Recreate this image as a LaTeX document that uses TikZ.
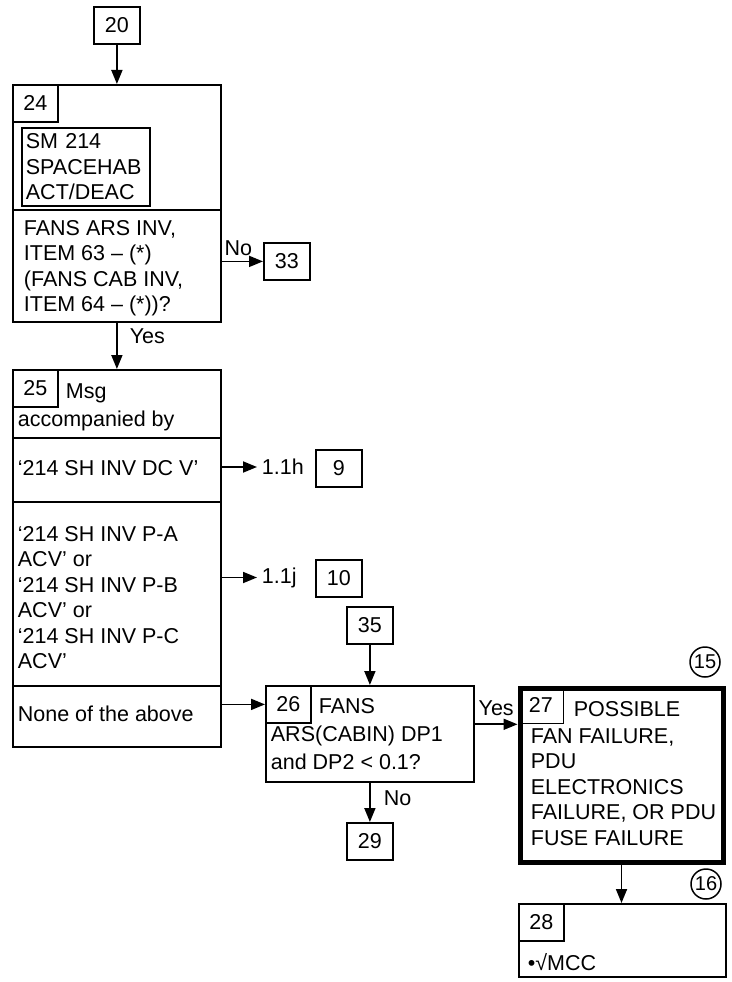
\documentclass[tikz,border=0pt]{standalone}
\usepackage{fontspec}
\setmainfont{Liberation Sans}
\usetikzlibrary{arrows.meta}

\begin{document}
\begin{tikzpicture}[x=1pt,y=-1pt,line width=1.8pt,
  font=\fontsize{21.5}{25.5}\selectfont,
  every node/.style={inner sep=0pt},
  box/.style={draw,anchor=north west},
  numbox/.style={draw,anchor=north west,minimum width=46pt,minimum height=37pt},
  txt/.style={anchor=north west,align=left},
  arr/.style={-{Triangle[length=14pt,width=11pt]}}]
\useasboundingbox (0,0) rectangle (731,982);

% plain reference boxes
\foreach \n/\x/\y in {20/93/6,33/263/242,9/315/449,10/315/559,35/346/606,29/346/822}
  \node[numbox] (b\n) at (\x,\y) {\n};

% block 24
\node[box,minimum width=208pt,minimum height=125pt] (s24a) at (12,84) {};
\node[box,minimum width=208pt,minimum height=112pt] (s24b) at (12,209) {};
\node[box,text width=120pt,inner xsep=4pt,minimum height=78pt,align=left] (sm) at (21,127) {SM 214\\SPACEHAB\\ACT/DEAC};
\node[txt] (q24) at (23,219.5) {FANS ARS INV,\\ITEM 63 – (*)\\(FANS CAB INV,\\ITEM 64 – (*))?};

% block 25
\node[box,minimum width=208pt,minimum height=68pt] (s25a) at (12,369) {};
\node[box,minimum width=208pt,minimum height=64pt] (s25b) at (12,437) {};
\node[box,minimum width=208pt,minimum height=184pt] (s25c) at (12,501) {};
\node[box,minimum width=208pt,minimum height=61pt] (s25d) at (12,685) {};
\node[txt] (msg) at (65,382.5) {Msg};
\node[txt] (acc) at (17,410.5) {accompanied by};
\node[txt] (dcv) at (17,459.5) {‘214 SH INV DC V’};
\node[txt] (acv) at (17,525.5) {‘214 SH INV P-A\\ACV’ or\\‘214 SH INV P-B\\ACV’ or\\‘214 SH INV P-C\\ACV’};
\node[txt] (none) at (17,705.5) {None of the above};
\node[anchor=west,inner xsep=4pt] (h11) at (257,467) {1.1h};
\node[anchor=west,inner xsep=4pt] (j11) at (257,577.5) {1.1j};

% block 26
\node[box,minimum width=208pt,minimum height=96pt] (s26) at (265,685) {};
\node[txt] (fans) at (318,697.5) {FANS};
\node[txt] (dp) at (270,725.5) {ARS(CABIN) DP1\\[2.5pt]and DP2 \textless{} 0.1?};

% block 27
\node[box,line width=5pt,minimum width=203pt,minimum height=174pt] (s27) at (517.5,685.5) {};
\node[txt] (poss) at (573,700.5) {POSSIBLE};
\node[txt] (fail) at (530,727.5) {FAN FAILURE,\\PDU\\ELECTRONICS\\FAILURE, OR PDU\\FUSE FAILURE};

% block 28
\node[box,minimum width=207pt,minimum height=73pt] (s28) at (518,903) {};
\node[txt] (mcc) at (527,952.5) {•√MCC};

% corner numbers
\foreach \n/\x/\y in {24/12/84,25/12/369,26/265/685,27/517.5/685.5,28/518/903}
  \node[numbox,minimum width=45pt] (n\n) at (\x,\y) {\n};

% circled notes
\node[draw,circle,line width=1.5pt,minimum size=30pt,font=\fontsize{20}{22}\selectfont] (c15) at (705,662) {15};
\node[draw,circle,line width=1.5pt,minimum size=30pt,font=\fontsize{20}{22}\selectfont] (c16) at (706,884) {16};

% connectors
\draw[arr] (b20.south) -- (b20.south |- s24a.north);
\draw[arr] (s24b.east |- b33.west) -- (b33.west) node[pos=0.4,above=5pt] (no1) {No};
\draw[arr] (s24b.south) -- (s25a.north) node[pos=0.3,right=12pt] (yes1) {Yes};
\draw[arr] (s25b.east |- h11.west) -- (h11.west);
\draw[arr] (s25c.east |- j11.west) -- (j11.west);
\draw[arr] (s25d.east |- n26.west) -- (n26.west);
\draw[arr] (b35.south) -- (b35.south |- s26.north);
\draw[arr] (b29.north |- s26.south) -- (b29.north) node[pos=0.4,right=13pt] (no2) {No};
\draw[arr] (s26.east |- n27.south west) -- (n27.south west) node[midway,above=8pt] (yes2) {Yes};
\draw[arr] (s27.south) -- (s27.south |- s28.north);
\end{tikzpicture}
\end{document}
